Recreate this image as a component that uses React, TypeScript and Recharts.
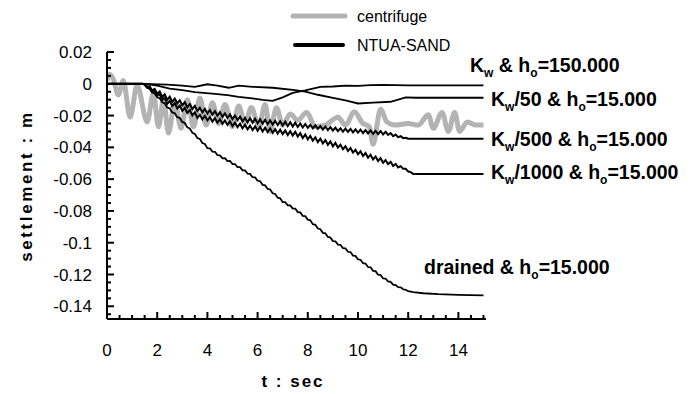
import { LineChart, Line, XAxis, YAxis, Legend } from 'recharts';

// time grid of the oscillating NTUA-SAND runs (s)
const T_WAVE = [
  1.5, 1.6, 1.7, 1.8, 1.9, 2.0, 2.1, 2.2, 2.3, 2.4,
  2.5, 2.6, 2.7, 2.8, 2.9, 3.0, 3.1, 3.2, 3.3, 3.4,
  3.5, 3.6, 3.7, 3.8, 3.9, 4.0, 4.1, 4.2, 4.3, 4.4,
  4.5, 4.6, 4.7, 4.8, 4.9, 5.0, 5.1, 5.2, 5.3, 5.4,
  5.5, 5.6, 5.7, 5.8, 5.9, 6.0, 6.1, 6.2, 6.3, 6.4,
  6.5, 6.6, 6.7, 6.8, 6.9, 7.0, 7.1, 7.2, 7.3, 7.4,
  7.5, 7.6, 7.7, 7.8, 7.9, 8.0, 8.1, 8.2, 8.3, 8.4,
  8.5, 8.6, 8.7, 8.8, 8.9, 9.0, 9.1, 9.2, 9.3, 9.4,
  9.5, 9.6, 9.7, 9.8, 9.9, 10.0, 10.1, 10.2, 10.3, 10.4,
  10.5, 10.6, 10.7, 10.8, 10.9, 11.0, 11.1, 11.2, 11.3, 11.4,
  11.5, 11.6, 11.7, 11.8, 11.9, 12.0, 12.1, 12.2,
];

const KW500_V = [
  -0.0002, -0.0019, -0.0016, -0.0042, -0.0032, -0.0062, -0.0048, -0.0083, -0.0066, -0.0101,
  -0.0081, -0.0113, -0.0093, -0.0124, -0.0104, -0.0136, -0.0116, -0.0148, -0.0128, -0.0159,
  -0.0139, -0.0171, -0.0151, -0.018, -0.0158, -0.0187, -0.0165, -0.0194, -0.0172, -0.0201,
  -0.0179, -0.0208, -0.0186, -0.0215, -0.0193, -0.0222, -0.02, -0.0229, -0.0207, -0.0236,
  -0.0214, -0.0242, -0.0217, -0.0245, -0.022, -0.0248, -0.0223, -0.0251, -0.0226, -0.0254,
  -0.023, -0.0257, -0.0233, -0.026, -0.0236, -0.0263, -0.0239, -0.0266, -0.0242, -0.0269,
  -0.0245, -0.0272, -0.025, -0.0275, -0.0253, -0.0277, -0.0259, -0.0281, -0.0262, -0.0284,
  -0.0266, -0.0288, -0.0269, -0.0291, -0.0273, -0.0295, -0.0276, -0.0298, -0.028, -0.0301,
  -0.0282, -0.0303, -0.0284, -0.0306, -0.0287, -0.0308, -0.0289, -0.031, -0.0291, -0.0312,
  -0.0293, -0.0315, -0.0296, -0.0317, -0.0298, -0.0319, -0.0302, -0.0322, -0.031, -0.033,
  -0.032, -0.0336, -0.033, -0.0342, -0.034, -0.0346, -0.0346, -0.0346,
];

const KW1000_V = [
  -0.0003, -0.0023, -0.0023, -0.0051, -0.0044, -0.0076, -0.0065, -0.0102, -0.0088, -0.0126,
  -0.0107, -0.0141, -0.0122, -0.0155, -0.0137, -0.017, -0.0151, -0.0184, -0.0166, -0.0199,
  -0.018, -0.0214, -0.0195, -0.0224, -0.0202, -0.0231, -0.0209, -0.0238, -0.0216, -0.0245,
  -0.0223, -0.0252, -0.023, -0.0259, -0.0237, -0.0266, -0.0244, -0.0273, -0.0251, -0.028,
  -0.0258, -0.0287, -0.0263, -0.0291, -0.0268, -0.0296, -0.0272, -0.03, -0.0276, -0.0304,
  -0.0281, -0.0309, -0.0285, -0.0313, -0.0289, -0.0317, -0.0294, -0.0322, -0.0298, -0.0326,
  -0.0302, -0.0332, -0.0311, -0.0341, -0.0319, -0.035, -0.0328, -0.0358, -0.0337, -0.0367,
  -0.0345, -0.0375, -0.0354, -0.0384, -0.0362, -0.0393, -0.0372, -0.0401, -0.0383, -0.0412,
  -0.0393, -0.0423, -0.0404, -0.0433, -0.0415, -0.0444, -0.0425, -0.0454, -0.0436, -0.0465,
  -0.0446, -0.0476, -0.0457, -0.0486, -0.0468, -0.0497, -0.048, -0.0506, -0.0491, -0.0517,
  -0.0504, -0.0526, -0.0518, -0.0535, -0.0535, -0.0552, -0.0556, -0.0567,
];

const DRAINED_V = [
  -0.0007, -0.0025, -0.0033, -0.0055, -0.0061, -0.0085, -0.0091, -0.0117, -0.0123, -0.0149,
  -0.0155, -0.018, -0.0185, -0.021, -0.0215, -0.024, -0.0247, -0.0274, -0.0281, -0.0308,
  -0.0315, -0.0341, -0.0347, -0.0373, -0.0379, -0.0405, -0.0406, -0.0427, -0.0428, -0.0449,
  -0.045, -0.0469, -0.0468, -0.0487, -0.0486, -0.0505, -0.0505, -0.0525, -0.0525, -0.0545,
  -0.0545, -0.0566, -0.0567, -0.0588, -0.0589, -0.061, -0.0613, -0.0636, -0.0639, -0.0662,
  -0.0665, -0.0689, -0.0693, -0.0717, -0.0721, -0.0745, -0.0745, -0.0765, -0.0765, -0.0785,
  -0.0785, -0.0807, -0.0809, -0.0831, -0.0833, -0.0855, -0.0859, -0.0883, -0.0887, -0.0911,
  -0.0915, -0.0938, -0.0941, -0.0964, -0.0967, -0.099, -0.0991, -0.1012, -0.1013, -0.1034,
  -0.1035, -0.1057, -0.1059, -0.1081, -0.1083, -0.1105, -0.1107, -0.1129, -0.1131, -0.1153,
  -0.1155, -0.1177, -0.1179, -0.1201, -0.1203, -0.1225, -0.1226, -0.1244, -0.1246, -0.1264,
  -0.1267, -0.128, -0.1281, -0.1293, -0.1296, -0.1305, -0.1308, -0.1311,
];

const START = [[0, 0], [1.4, 0]];
const KW500_END = [[13, -0.0346], [15, -0.0346]];
const KW1000_END = [[13, -0.0567], [15, -0.0567]];
const DRAINED_END = [[12.6, -0.1318], [13.2, -0.1324], [14, -0.1328], [15, -0.1331]];

const KW150 = [
  [0, 0], [1.5, 0], [2.0, -0.0012], [2.5, -0.003], [3.0, -0.004], [3.5, -0.0052],
  [4.3, -0.0063], [4.8, -0.0072], [5.24, -0.0082], [5.7, -0.009], [6.2, -0.0101],
  [6.6, -0.0107], [7.0, -0.0085], [7.4, -0.0057], [7.9, -0.0042], [8.5, -0.0019],
  [9.0, -0.0017], [9.5, -0.0012], [10, -0.0013], [10.5, -0.0009], [11, -0.0007],
  [11.5, -0.0008], [12, -0.001], [13, -0.001], [15, -0.001],
];

const KW50 = [
  [0, 0], [1.5, 0], [2.4, -0.0005], [3.0, -0.0012], [3.5, -0.0019], [4.0, -0.0003],
  [4.4, -0.0012], [4.85, -0.0025], [5.25, -0.0012], [5.8, -0.0019], [6.6, -0.0025],
  [7.4, -0.0038], [7.9, -0.005], [8.4, -0.0069], [9.0, -0.0088], [9.5, -0.0105],
  [10.0, -0.0124], [10.6, -0.0118], [11.3, -0.0113], [11.9, -0.0085], [12.3, -0.0088],
  [15, -0.0088],
];

const CENTRIFUGE = [
  [0, 0.002], [0.1, 0.006], [0.25, 0.003], [0.45, -0.007], [0.65, 0.002], [0.92, -0.021],
  [1.2, -0.001], [1.6, -0.024], [1.85, -0.006], [2.05, -0.027], [2.25, -0.01], [2.45, -0.031],
  [2.7, -0.011], [2.95, -0.028], [3.2, -0.01], [3.45, -0.027], [3.7, -0.009], [3.95, -0.026],
  [4.2, -0.012], [4.45, -0.025], [4.7, -0.013], [5.0, -0.027], [5.25, -0.014], [5.5, -0.025],
  [5.75, -0.015], [6.05, -0.027], [6.3, -0.013], [6.5, -0.03], [6.75, -0.015], [7.0, -0.026],
  [7.3, -0.019], [7.6, -0.023], [7.95, -0.018], [8.3, -0.027], [8.7, -0.026], [9.2, -0.021],
  [9.5, -0.026], [9.85, -0.0176], [10.2, -0.025], [10.45, -0.027], [10.6, -0.038], [10.9, -0.016],
  [11.15, -0.024], [11.5, -0.026], [12.0, -0.025], [12.4, -0.026], [12.8, -0.0195], [13.0, -0.028],
  [13.35, -0.018], [13.6, -0.03], [13.85, -0.018], [14.05, -0.03], [14.35, -0.024], [14.7, -0.026],
  [15, -0.026],
];

const X_TICKS = [0, 0.5, 1, 1.5, 2, 2.5, 3, 3.5, 4, 4.5, 5, 5.5, 6, 6.5, 7, 7.5, 8, 8.5, 9, 9.5, 10, 10.5, 11, 11.5, 12, 12.5, 13, 13.5, 14, 14.5, 15];
const X_LABELS = [0, 2, 4, 6, 8, 10, 12, 14];
const Y_TICKS = [0.02, 0.015, 0.01, 0.005, 0, -0.005, -0.01, -0.015, -0.02, -0.025, -0.03, -0.035, -0.04, -0.045, -0.05, -0.055, -0.06, -0.065, -0.07, -0.075, -0.08, -0.085, -0.09, -0.095, -0.1, -0.105, -0.11, -0.115, -0.12, -0.125, -0.13, -0.135, -0.14, -0.145];
const Y_LABELS = [0.02, 0, -0.02, -0.04, -0.06, -0.08, -0.1, -0.12, -0.14];
const LEGEND_ORDER = ['centrifuge', 'NTUA-SAND'];

const GRAY = '#b3b3b3';
const FONT = '"Liberation Sans", Arial, sans-serif';

const pts = (pairs: number[][]) => pairs.map(([t, v]) => ({ t, v }));
const wave = (vals: number[], end: number[][]) =>
  pts([...START, ...T_WAVE.map((t, i) => [t, vals[i]]), ...end]);

const XTick = (props: any) => {
  const { x, y, payload } = props;
  const major = X_LABELS.includes(payload.value);
  return (
    <g>
      <line x1={x} x2={x} y1={y} y2={y - (major ? 7 : 4)} stroke="#000" strokeWidth={2} />
      {major && (
        <text x={x} y={y + 37} textAnchor="middle" fontSize={17} fill="#000" fontFamily={FONT}>
          {payload.value}
        </text>
      )}
    </g>
  );
};

const YTick = (props: any) => {
  const { x, y, payload } = props;
  const major = Y_LABELS.some((l) => Math.abs(l - payload.value) < 1e-9);
  return (
    <g>
      <line x1={x} x2={x + (major ? 7 : 4)} y1={y} y2={y} stroke="#000" strokeWidth={2} />
      {major && (
        <text x={x - 15} y={y + 6} textAnchor="end" fontSize={17} fill="#000" fontFamily={FONT}>
          {String(payload.value)}
        </text>
      )}
    </g>
  );
};

const LegendBox = (props: any) => {
  const items = (props.payload || [])
    .filter((p: any) => LEGEND_ORDER.includes(p.value))
    .sort((a: any, b: any) => LEGEND_ORDER.indexOf(a.value) - LEGEND_ORDER.indexOf(b.value));
  return (
    <svg width={200} height={58}>
      {items.map((p: any, i: number) => {
        const cy = 16 + i * 29;
        const gray = p.value === 'centrifuge';
        return (
          <g key={p.value}>
            <line x1={gray ? 3 : 5} x2={gray ? 55 : 53} y1={cy} y2={cy} stroke={p.color}
              strokeWidth={gray ? 5 : 4} strokeLinecap="round" />
            <text x={67} y={cy + 6} fontSize={16} fill="#000" fontFamily={FONT}>{p.value}</text>
          </g>
        );
      })}
    </svg>
  );
};

const Ann = ({ x, y, pre, mid, value }: any) => (
  <text x={x} y={y} fontSize={19.5} fontWeight="bold" fill="#000" fontFamily={FONT}>
    {pre}
    {pre === 'K' && <tspan fontSize={12} dy={5}>w</tspan>}
    <tspan dy={pre === 'K' ? -5 : 0}>{`${mid} & h`}</tspan>
    <tspan fontSize={12} dy={5}>o</tspan>
    <tspan dy={-5}>{`=${value}`}</tspan>
  </text>
);

export default function App() {
  return (
    <div style={{ position: 'absolute', left: 0, top: 0, background: '#fff' }}>
      <LineChart width={691} height={394} margin={{ top: 52, right: 205, bottom: 35, left: 0 }}>
        <XAxis type="number" dataKey="t" domain={[0, 15.1]} ticks={X_TICKS} interval={0}
          tick={<XTick />} tickLine={false} tickSize={0} tickMargin={0} height={40}
          axisLine={{ stroke: '#000', strokeWidth: 2 }} allowDataOverflow />
        <YAxis type="number" domain={[-0.148, 0.02]} ticks={Y_TICKS} interval={0}
          tick={<YTick />} tickLine={false} tickSize={0} tickMargin={0} width={107}
          axisLine={{ stroke: '#000', strokeWidth: 2 }} allowDataOverflow />
        <Legend layout="vertical" align="center" verticalAlign="middle" content={<LegendBox />}
          wrapperStyle={{ position: 'absolute', left: 290, top: 0, width: 200 }} />
        <Line data={pts(CENTRIFUGE)} dataKey="v" name="centrifuge" type="monotone" stroke={GRAY}
          strokeWidth={5} dot={false} isAnimationActive={false} />
        <Line data={pts(KW150)} dataKey="v" name="NTUA-SAND" stroke="#000" strokeWidth={1.8}
          dot={false} isAnimationActive={false} />
        <Line data={pts(KW50)} dataKey="v" name="kw50" legendType="none" stroke="#000"
          strokeWidth={1.8} dot={false} isAnimationActive={false} />
        <Line data={wave(KW500_V, KW500_END)} dataKey="v" name="kw500" legendType="none"
          stroke="#000" strokeWidth={2} dot={false} isAnimationActive={false} />
        <Line data={wave(KW1000_V, KW1000_END)} dataKey="v" name="kw1000" legendType="none"
          stroke="#000" strokeWidth={2} dot={false} isAnimationActive={false} />
        <Line data={wave(DRAINED_V, DRAINED_END)} dataKey="v" name="drained" legendType="none"
          stroke="#000" strokeWidth={1.8} dot={false} isAnimationActive={false} />
        <text x={293} y={387} textAnchor="middle" fontSize={17} fontWeight="bold"
          letterSpacing={2} fontFamily={FONT}>t : sec</text>
        <text x={32} y={186} textAnchor="middle" fontSize={17} fontWeight="bold"
          letterSpacing={2.6} fontFamily={FONT} transform="rotate(-90 32 186)">settlement : m</text>
        <Ann x={470} y={72} pre="K" mid="" value="150.000" />
        <Ann x={491} y={106} pre="K" mid="/50" value="15.000" />
        <Ann x={491} y={146} pre="K" mid="/500" value="15.000" />
        <Ann x={491} y={179} pre="K" mid="/1000" value="15.000" />
        <Ann x={424} y={274} pre="drained" mid="" value="15.000" />
      </LineChart>
    </div>
  );
}
